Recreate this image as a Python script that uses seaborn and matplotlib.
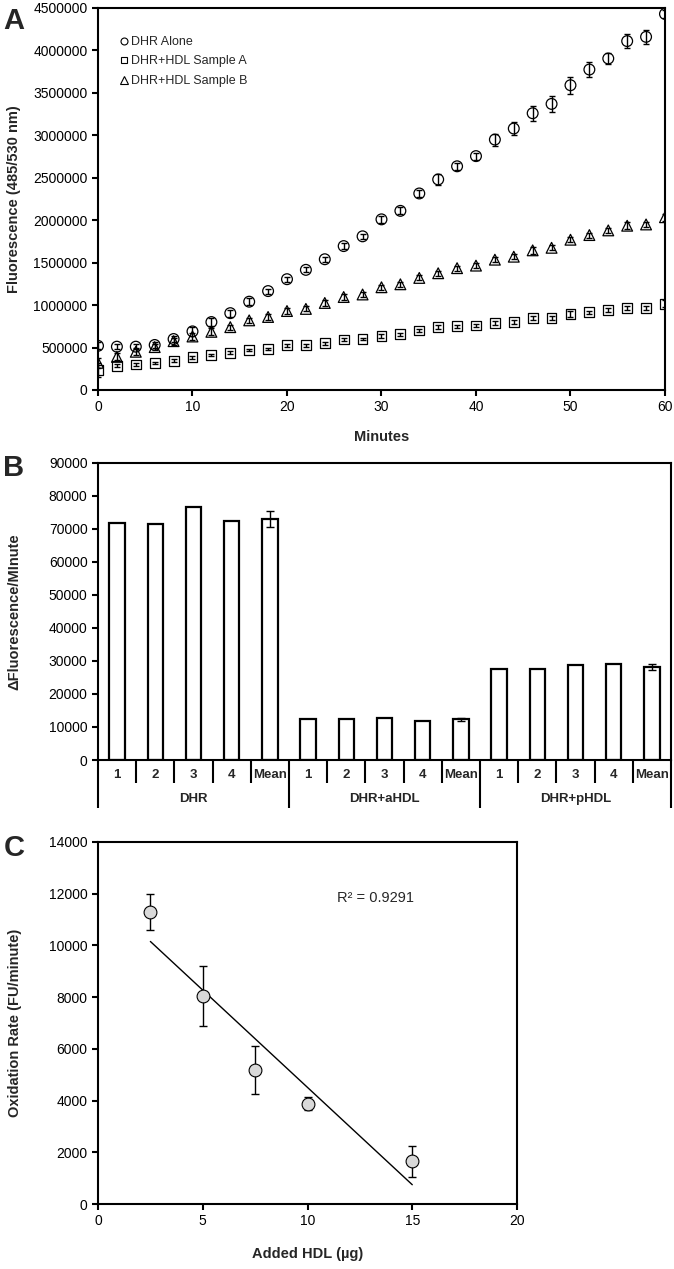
import pandas as pd
import matplotlib
matplotlib.use('Agg')
import matplotlib.pyplot as plt
import matplotlib.transforms as mtransforms
from matplotlib.lines import Line2D
import seaborn as sns

# ---- panel A data (fluorescence time course) ----
minutes = [0, 2, 4, 6, 8, 10, 12, 14, 16, 18, 20, 22, 24, 26, 28, 30,
           32, 34, 36, 38, 40, 42, 44, 46, 48, 50, 52, 54, 56, 58, 60]
dhr_alone = [520000, 510000, 510000, 530000, 600000, 690000, 800000, 905000,
             1040000, 1165000, 1305000, 1415000, 1540000, 1695000, 1810000,
             2010000, 2110000, 2315000, 2480000, 2635000, 2755000, 2950000,
             3080000, 3260000, 3370000, 3590000, 3775000, 3905000, 4110000,
             4160000, 4430000]
dhr_alone_err = [40000, 30000, 30000, 30000, 30000, 50000, 50000, 40000,
                 40000, 30000, 30000, 30000, 30000, 40000, 30000, 40000,
                 40000, 40000, 60000, 40000, 40000, 70000, 80000, 90000,
                 90000, 100000, 90000, 70000, 80000, 80000, 50000]
sample_a = [235000, 285000, 300000, 320000, 345000, 385000, 410000, 440000,
            470000, 485000, 525000, 525000, 550000, 595000, 600000, 635000,
            655000, 700000, 740000, 750000, 760000, 790000, 800000, 850000,
            850000, 895000, 915000, 945000, 965000, 965000, 1015000]
sample_a_err = [80000, 20000, 15000, 15000, 15000, 20000, 15000, 20000,
                15000, 15000, 15000, 15000, 15000, 20000, 15000, 20000,
                15000, 15000, 20000, 20000, 20000, 20000, 20000, 25000,
                20000, 30000, 20000, 25000, 25000, 25000, 40000]
sample_b = [320000, 390000, 450000, 505000, 575000, 630000, 685000, 740000,
            820000, 860000, 930000, 955000, 1025000, 1095000, 1125000,
            1210000, 1245000, 1320000, 1375000, 1435000, 1465000, 1535000,
            1570000, 1645000, 1675000, 1770000, 1825000, 1880000, 1935000,
            1950000, 2035000]
sample_b_err = [60000, 40000, 40000, 40000, 40000, 40000, 40000, 30000,
                30000, 30000, 30000, 30000, 30000, 30000, 30000, 30000,
                30000, 30000, 30000, 30000, 30000, 30000, 30000, 40000,
                30000, 30000, 30000, 30000, 40000, 30000, 40000]
series_names = ['DHR Alone', 'DHR+HDL Sample A', 'DHR+HDL Sample B']

# ---- panel B data (rates) ----
groups = ['DHR', 'DHR+aHDL', 'DHR+pHDL']
subs = ['1', '2', '3', '4', 'Mean']
dhr_rates = [71700, 71300, 76600, 72300, 73000]
ahdl_rates = [12300, 12400, 12700, 11900, 12300]
phdl_rates = [27600, 27400, 28700, 28900, 28200]
mean_err = [2400, 350, 850]

# ---- panel C data (dose response) ----
hdl_ug = [2.5, 5, 7.5, 10, 15]
ox_rate = [11300, 8050, 5200, 3870, 1650]
ox_err = [700, 1170, 930, 250, 600]

sns.set_style('ticks')
plt.rcParams['font.family'] = ['Liberation Sans', 'DejaVu Sans']
plt.rcParams['axes.linewidth'] = 1.5
plt.rcParams['xtick.major.width'] = 1.5
plt.rcParams['ytick.major.width'] = 1.5
plt.rcParams['xtick.major.size'] = 4
plt.rcParams['ytick.major.size'] = 4
plt.rcParams['xtick.color'] = 'black'
plt.rcParams['ytick.color'] = 'black'
plt.rcParams['axes.edgecolor'] = 'black'

TICK_FS = 10
LAB_FS = 10.5

fig = plt.figure(figsize=(6.74, 12.69), dpi=100)
axA = fig.add_axes([0.1454, 0.6927, 0.8412, 0.3010])
axB = fig.add_axes([0.1454, 0.4011, 0.8501, 0.2344])
axC = fig.add_axes([0.1454, 0.0512, 0.6217, 0.2853])

# ---------------- A ----------------
markers = ['o', 's', '^']
sizes = [60, 50, 60]
for vals, err, m, s in zip([dhr_alone, sample_a, sample_b],
                           [dhr_alone_err, sample_a_err, sample_b_err],
                           markers, sizes):
    sns.scatterplot(x=minutes, y=vals, marker=m, s=s, color='white',
                    edgecolor='black', linewidth=0.9, ax=axA, zorder=2)
    axA.collections[-1].set_facecolor('none')
    axA.errorbar(minutes, vals, yerr=err, fmt='none', ecolor='black',
                 elinewidth=1, capsize=2.5, capthick=1, zorder=3)
axA.set_xlim(0, 60)
axA.set_ylim(0, 4500000)
axA.set_xticks([0, 10, 20, 30, 40, 50, 60])
axA.set_yticks(range(0, 4500001, 500000))
axA.ticklabel_format(axis='y', style='plain', useOffset=False)
axA.tick_params(labelsize=TICK_FS)
axA.set_xlabel('Minutes', fontsize=LAB_FS, fontweight='bold')
axA.set_ylabel('Fluorescence (485/530 nm)', fontsize=LAB_FS, fontweight='bold')
axA.xaxis.set_label_coords(0.5, -0.105)
axA.yaxis.set_label_coords(-0.135, 0.5)
handles = [Line2D([], [], ls='none', marker=m, markersize=ms, mfc='none',
                  mec='black', mew=0.8) for m, ms in zip(markers, [5, 5, 5.5])]
axA.legend(handles, series_names, loc='upper left', bbox_to_anchor=(0.03, 0.94),
           frameon=False, fontsize=9, handlelength=0.7, handletextpad=0.15,
           labelspacing=0.6, borderaxespad=0)

# ---------------- B ----------------
df_b = pd.DataFrame({
    'bar': [f'{g} {s}' for g in groups for s in subs],
    'rate': dhr_rates + ahdl_rates + phdl_rates,
})
sns.barplot(data=df_b, x='bar', y='rate', color='white', saturation=1,
            edgecolor='black', linewidth=1.6, width=0.4, ax=axB)
mean_pos = [len(subs) * i + len(subs) - 1 for i in range(len(groups))]
mean_vals = [dhr_rates[-1], ahdl_rates[-1], phdl_rates[-1]]
axB.errorbar(mean_pos, mean_vals, yerr=mean_err, fmt='none', ecolor='black',
             elinewidth=1, capsize=3, capthick=1, zorder=3)
n_bars = len(df_b)
axB.set_xlim(-0.5, n_bars - 0.5)
axB.set_ylim(0, 90000)
axB.set_yticks(range(0, 90001, 10000))
axB.set_xticks([])
axB.set_xlabel('')
axB.tick_params(labelsize=TICK_FS)
axB.set_ylabel('\u0394Fluorescence/MInute', fontsize=LAB_FS, fontweight='bold')
axB.yaxis.set_label_coords(-0.133, 0.5)
trans = mtransforms.blended_transform_factory(axB.transData, axB.transAxes)
for i in range(n_bars + 1):
    yb = -0.161 if i % len(subs) == 0 else -0.077
    axB.plot([i - 0.5, i - 0.5], [0, yb], transform=trans, color='black',
             lw=1.5, clip_on=False, solid_capstyle='butt')
for i, lab in enumerate(df_b['bar']):
    axB.text(i, -0.052, lab.split(' ')[-1], transform=trans, ha='center',
             va='center', fontsize=9.5, fontweight='bold')
for j, g in enumerate(groups):
    axB.text(len(subs) * j + 2, -0.131, g, transform=trans, ha='center',
             va='center', fontsize=9.5, fontweight='bold')

# ---------------- C ----------------
sns.regplot(x=hdl_ug, y=ox_rate, ci=None, scatter=False, color='black',
            line_kws={'lw': 1}, ax=axC)
axC.errorbar(hdl_ug, ox_rate, yerr=ox_err, fmt='none', ecolor='black',
             elinewidth=1, capsize=3, capthick=1, zorder=2)
sns.scatterplot(x=hdl_ug, y=ox_rate, s=85, color='#d9d9d9', edgecolor='black',
                linewidth=0.8, ax=axC, zorder=3)
axC.text(11.4, 11850, 'R\u00b2 = 0.9291', fontsize=10.5, ha='left', va='center')
axC.set_xlim(0, 20)
axC.set_ylim(0, 14000)
axC.set_xticks([0, 5, 10, 15, 20])
axC.set_yticks(range(0, 14001, 2000))
axC.tick_params(labelsize=TICK_FS)
axC.set_xlabel('Added HDL (\u00b5g)', fontsize=LAB_FS, fontweight='bold')
axC.set_ylabel('Oxidation Rate (FU/minute)', fontsize=LAB_FS, fontweight='bold')
axC.xaxis.set_label_coords(0.5, -0.118)
axC.yaxis.set_label_coords(-0.182, 0.5)

# panel letters
for lab, y in zip(['A', 'B', 'C'], [0.9945, 0.6425, 0.3425]):
    fig.text(0.005, y, lab, fontsize=21, fontweight='bold', va='top', ha='left')

fig.savefig('out.png', dpi=100)
